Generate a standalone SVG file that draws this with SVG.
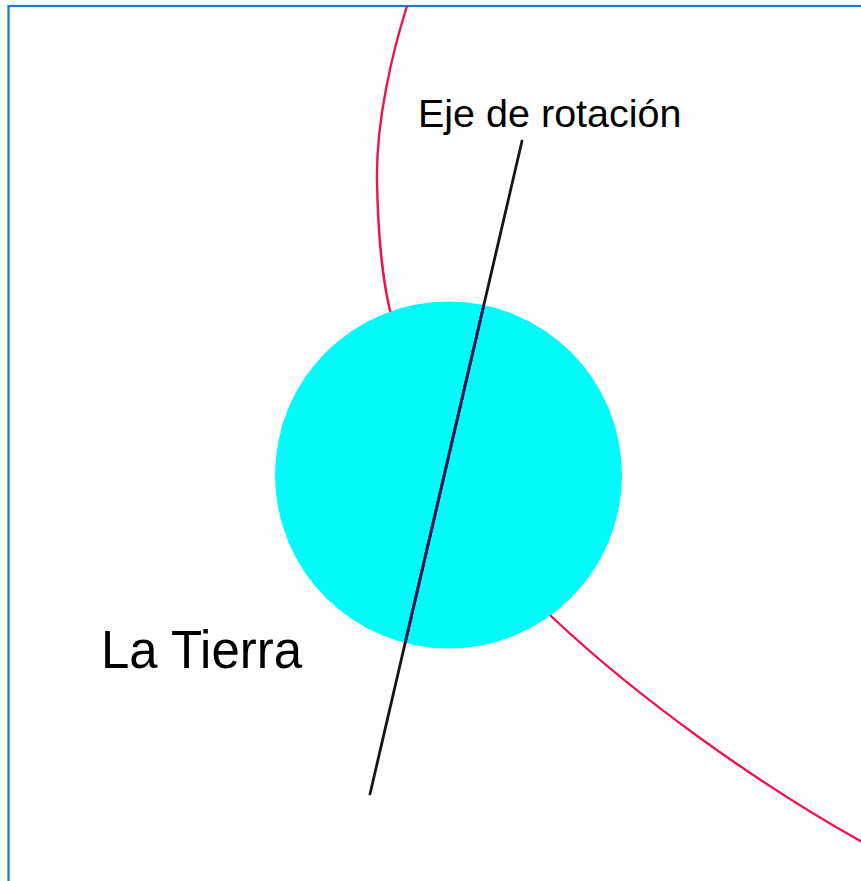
<svg xmlns="http://www.w3.org/2000/svg" width="861" height="881" viewBox="0 0 861 881">
<style>
.orbit{fill:none;stroke:#f0144e;stroke-width:2.4}
.axis{stroke:#151515;stroke-width:2.8;stroke-linecap:round}
.axis-in{stroke:#0a1458;stroke-width:2.8}
.lbl{font-family:"Liberation Sans",Arial,sans-serif;fill:#000}
</style>
<defs>
<clipPath id="earthClip"><circle cx="448.5" cy="475" r="173.5"/></clipPath>
</defs>
<rect x="0" y="0" width="861" height="881" fill="#fff"/>
<rect x="8.5" y="6" width="900" height="900" fill="none" stroke="#1f78d2" stroke-width="2.2"/>
<g id="connectors">
<path id="orbit" class="orbit" d="M407,6 C393,50 376,120 377,180 C378,240 384,290 392,318 C420,420 480,540 552,617 C640,700 760,785 862,842"/>
</g>
<g id="earth">
<circle cx="448.5" cy="475" r="173.5" fill="#00fbfb"/>
</g>
<g id="axis">
<line class="axis" x1="522" y1="141" x2="370" y2="794"/>
<line class="axis-in" x1="522" y1="141" x2="370" y2="794" clip-path="url(#earthClip)"/>
</g>
<g id="label-axis">
<text class="lbl" x="418" y="127" font-size="39.5">Eje de rotación</text>
</g>
<g id="label-earth">
<text class="lbl" x="101" y="668" font-size="54" textLength="201" lengthAdjust="spacingAndGlyphs">La Tierra</text>
</g>
</svg>
